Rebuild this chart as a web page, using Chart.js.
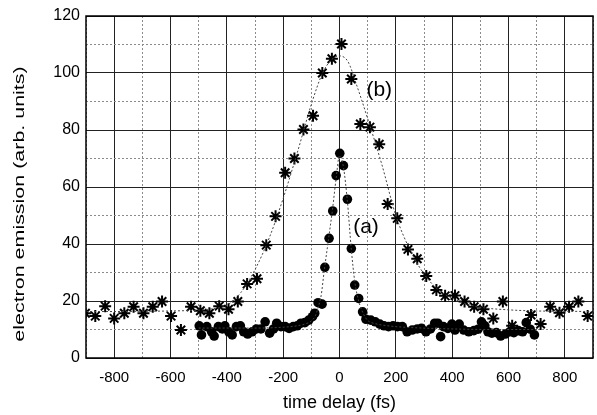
<!DOCTYPE html>
<html>
<head>
<meta charset="utf-8">
<script src="https://cdn.jsdelivr.net/npm/chart.js@4/dist/chart.umd.min.js"></script>
<style>
  html, body { margin: 0; padding: 0; background: #fff; overflow: hidden; }
  #wrap { width: 597px; height: 415px; overflow: hidden; }
</style>
</head>
<body>
<div id="wrap"><canvas id="chart" width="601" height="415"></canvas></div>
<script>
// series (b): asterisks
const bX = [-902,-867,-832,-800,-764,-731,-696,-663,-630,-598,-563,-527,-494,-462,-427,-394,-361,-328,-293,-260,
  -227,-193,-160,-128,-94,-61,-27,7,42,74,108,141,171,205,243,276,308,344,375,410,
  444,478,511,546,580,613,680,714,748,781,815,848,881];
const bY = [15.7,14.7,18.2,13.9,15.7,18,15.7,18,19.8,14.7,9.8,18,16.6,15.7,18.2,17.1,19.8,26,27.8,39.6,
  49.7,65,70,80.2,85,100,105,110.2,97.9,82.1,81,75,54,49,38.1,34.8,28.8,23.9,21.8,21.9,
  19.8,18,17.1,13.9,19.8,11.3,15.1,11.9,18,15.9,18,19.8,14.7];

// series (a): filled circles
const aX = [-498,-490,-471,-454,-445,-430,-416,-407,-393,-381,-366,-352,-340,-326,-310,-295,-279,-264,-248,-234,
  -223,-208,-193,-179,-164,-150,-137,-123,-109,-96,-88,-76,-62,-52,-37,-24,-12,1,14,28,
  42,54,68,82,94,111,127,143,158,174,190,206,223,240,258,276,291,307,323,338,
  349,359,369,385,399,410,425,441,459,477,492,504,516,527,541,557,572,589,604,619,
  635,650,663,677,692];
const aY = [11.3,8.1,11,9.2,7.7,11,10.2,11.3,9.2,8.1,11,11.3,9.2,8.4,9.2,10.2,10.2,12.7,8.7,10.2,
  12.2,11,11,10.4,11,11.3,12.2,12.4,13.3,14.5,15.7,19.4,18.9,31.8,42,51.6,64,71.8,67.5,55.7,
  38.4,25.6,20.9,16.2,13.6,13.3,12.7,11.9,11.3,11,11.3,11,11,9.2,9.8,10.2,10.4,9.2,10.2,12.2,
  12.2,7.5,11,10.4,11.9,9.8,11.9,9.8,9.2,9.6,10.1,12.7,11.3,9.2,8.7,8.9,7.7,8.4,9.2,8.9,
  9.6,9.2,12.4,10.1,8.1];

// fitted curves (dotted lines)
const fitBX = [-900,-800,-700,-600,-500,-450,-400,-350,-300,-250,-200,-150,-100,-60,-30,0,30,60,100,150,200,250,300,350,400,450,500,600,700,800,900];
const fitBY = [16.3,16.3,16.4,16.5,16.8,17.3,18.5,23,31,42,56,72,89,100,104.5,106,104,96,84,68,50,38,29.5,24,21,19,17.8,16.9,16.5,16.4,16.3];
const fitAX = [-500,-300,-200,-150,-120,-100,-85,-75,-65,-55,-40,-25,-12,0,14,28,42,54,68,85,100,130,180,250,400,550,700];
const fitAY = [10.5,10.5,10.8,11.3,12,13,15,18,22,30,41,52,63,71,67,55,38,27,20,15.5,13.2,12,11.2,10.7,10.2,10,10];

const xTicks = [-800,-600,-400,-200,0,200,400,600,800];
const xMinorTicks = [-900,-800,-700,-600,-500,-400,-300,-200,-100,0,100,200,300,400,500,600,700,800,900];
const yTicks = [0,20,40,60,80,100,120];
const yMinorTicks = [0,10,20,30,40,50,60,70,80,90,100,110,120];

const labels = [
  { text: "(b)", x: 141, y: 94 },
  { text: "(a)", x: 94, y: 46 },
];

const pts = (xs, ys) => xs.map((x, i) => ({ x: x, y: ys[i] }));
const FONT = "'Liberation Sans', Arial, sans-serif";

// frame, curve labels and rotated y title
const extras = {
  id: "extras",
  afterDraw(chart) {
    const { ctx, chartArea: a, scales } = chart;
    ctx.save();
    ctx.strokeStyle = "#000";
    ctx.lineWidth = 1.5;
    ctx.strokeRect(a.left, a.top, a.right - a.left, a.bottom - a.top);

    ctx.fillStyle = "#000";
    ctx.font = "21px " + FONT;
    ctx.textAlign = "center";
    ctx.textBaseline = "middle";
    labels.forEach(l => {
      ctx.fillText(l.text, scales.x.getPixelForValue(l.x), scales.y.getPixelForValue(l.y));
    });

    ctx.translate(20, 204);
    ctx.rotate(-Math.PI / 2);
    ctx.scale(1.43, 1);
    ctx.font = "15px " + FONT;
    ctx.fillText("electron emission (arb. units)", 0, 0);
    ctx.restore();
  }
};

new Chart(document.getElementById("chart"), {
  type: "scatter",
  data: {
    datasets: [
      {
        data: pts(fitBX, fitBY), showLine: true, cubicInterpolationMode: "monotone",
        borderColor: "#444", borderWidth: 1, borderDash: [2, 2], pointRadius: 0,
      },
      {
        data: pts(fitAX, fitAY), showLine: true, cubicInterpolationMode: "monotone",
        borderColor: "#444", borderWidth: 1, borderDash: [2, 2], pointRadius: 0,
      },
      {
        data: pts(bX, bY), pointStyle: "star", pointRadius: 6,
        borderColor: "#000", backgroundColor: "#000", borderWidth: 2,
      },
      {
        data: pts(aX, aY), pointStyle: "circle", pointRadius: 4.8,
        borderColor: "#000", backgroundColor: "#000", borderWidth: 0,
      },
    ],
  },
  options: {
    responsive: false,
    animation: false,
    devicePixelRatio: 1,
    layout: { padding: { top: 16, right: 0, left: 0, bottom: 0 } },
    plugins: { legend: { display: false }, tooltip: { enabled: false } },
    scales: {
      x: {
        type: "linear", min: -900, max: 900, position: "bottom",
        afterBuildTicks: s => { s.ticks = xTicks.map(v => ({ value: v })); },
        afterFit: s => { s.height = 57; },
        grid: { color: "#222", lineWidth: 1, drawTicks: false },
        border: { display: false },
        ticks: { color: "#000", font: { family: FONT, size: 15 }, padding: 11, maxRotation: 0 },
        title: {
          display: true, text: "time delay (fs)", color: "#000",
          font: { family: FONT, size: 18 }, padding: { top: 0, bottom: 1 },
        },
      },
      x2: {
        type: "linear", min: -900, max: 900, position: "bottom",
        afterBuildTicks: s => { s.ticks = xMinorTicks.map(v => ({ value: v })); },
        afterFit: s => { s.height = 0; },
        grid: {
          color: c => (c.tick && c.tick.value % 200 === 0 ? "rgba(0,0,0,0)" : "#8a8a8a"),
          lineWidth: 1, drawTicks: false,
        },
        border: { display: false, dash: [2, 2] },
        ticks: { display: false },
      },
      y: {
        type: "linear", min: 0, max: 120, position: "left",
        afterBuildTicks: s => { s.ticks = yTicks.map(v => ({ value: v })); },
        afterFit: s => { s.width = 86; },
        grid: { color: "#222", lineWidth: 1, drawTicks: false },
        border: { display: false },
        ticks: { color: "#000", font: { family: FONT, size: 16 }, padding: 6 },
      },
      y2: {
        type: "linear", min: 0, max: 120, position: "left",
        afterBuildTicks: s => { s.ticks = yMinorTicks.map(v => ({ value: v })); },
        afterFit: s => { s.width = 0; },
        grid: {
          color: c => (c.tick && c.tick.value % 20 === 0 ? "rgba(0,0,0,0)" : "#8a8a8a"),
          lineWidth: 1, drawTicks: false,
        },
        border: { display: false, dash: [2, 2] },
        ticks: { display: false },
      },
    },
  },
  plugins: [extras],
});
</script>
</body>
</html>
